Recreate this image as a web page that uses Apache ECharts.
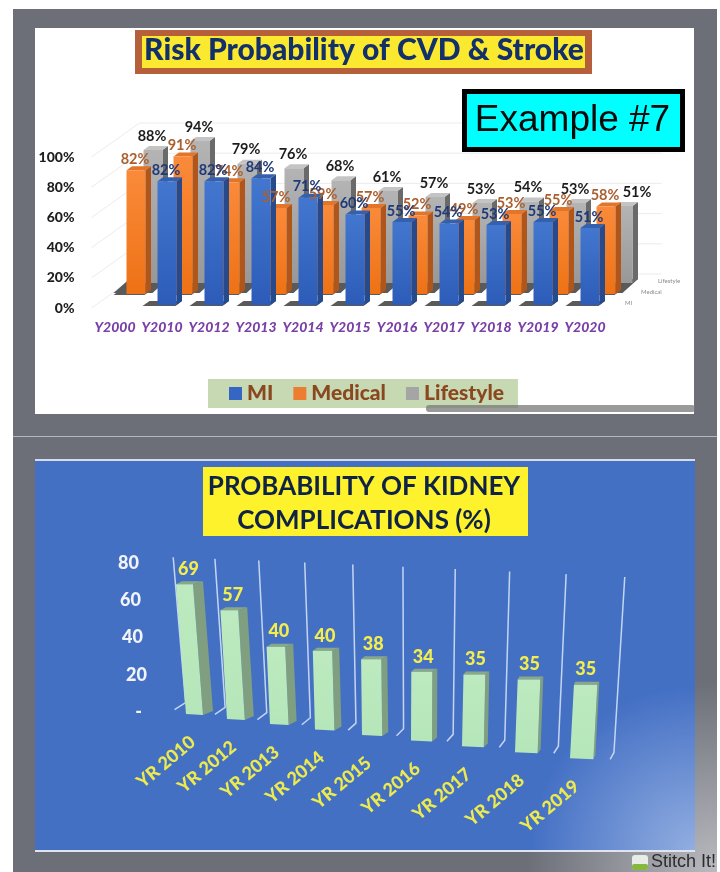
<!DOCTYPE html>
<html>
<head>
<meta charset="utf-8">
<style>html,body{margin:0;padding:0;background:#fff}#chart{width:720px;height:872px}</style>
<script src="https://cdn.jsdelivr.net/npm/echarts@6/dist/echarts.min.js"></script>
</head>
<body>
<div id="chart"></div>
<script>
// Risk chart: percentages per year for three factors
const riskYears = ['Y2000','Y2010','Y2012','Y2013','Y2014','Y2015','Y2016','Y2017','Y2018','Y2019','Y2020'];
const miValues = [null,82,82,84,71,60,55,54,53,55,51];
const medicalValues = [82,91,74,57,59,57,52,49,53,55,58];
const lifestyleValues = [88,94,79,76,68,61,57,53,54,53,51];
const riskTicks = [0,20,40,60,80,100];

// Kidney chart: probability per year
const kidneyYears = ['YR 2010','YR 2012','YR 2013','YR 2014','YR 2015','YR 2016','YR 2017','YR 2018','YR 2019'];
const kidneyValues = [69,57,40,40,38,34,35,35,35];

const SANS = 'Lato, "Open Sans", sans-serif';
const G = echarts.graphic;
const vgrad = (a, b) => new G.LinearGradient(0, 0, 0, 1, [{offset: 0, color: a}, {offset: 1, color: b}]);

// Extruded column for one depth row of the risk chart, with its floor shadow
function riskColumn(row) {
  const W = 19, SIDE = 5.5, CAP = 4;
  return function (params, api) {
    const i = api.value(0), v = api.value(1);
    if (isNaN(v)) return null;
    const base = api.coord([i, 0]), top = api.coord([i, v]);
    const cx = base[0] + row.dx, by = base[1] + row.dy, ty = top[1] + row.dy;
    const x0 = cx - W / 2, x1 = cx + W / 2;
    const poly = (points, fill, z2) => ({type: 'polygon', z2: z2 || 0, shape: {points}, style: {fill}});
    const isLast = i === riskYears.length - 1;
    const sb = by + row.shadowDrop;
    return {type: 'group', children: [
      poly([[x0 - row.shadow, sb], [x1 - row.shadowDrop, sb], [x1 + SIDE, by - CAP], [x0 - row.shadow + row.shadowDrop + 6, by - CAP]], '#5a5a5a'),
      poly([[x1, ty], [x1 + SIDE, ty - CAP], [x1 + SIDE, by - CAP], [x1, by]], row.side),
      poly([[x0, ty], [x1, ty], [x1 + SIDE, ty - CAP], [x0 + SIDE, ty - CAP]], row.cap),
      poly([[x0, ty], [x1, ty], [x1, by], [x0, by]], vgrad(row.front[0], row.front[1])),
      {type: 'text', z2: 100, style: {
        text: v + '%', x: cx - 1 + (row.name === 'Lifestyle' && isLast ? 15 : 0), y: ty - row.labelGap,
        align: 'center', verticalAlign: 'middle', font: 'bold 14.5px ' + SANS, fill: row.text
      }}
    ]};
  };
}

const rows = [
  {name: 'Lifestyle', dx: 38, dy: -25, side: '#6a6a6a', cap: '#c4c4c4', front: ['#b4b4b4', '#989898'], text: '#1c1c1c', shadow: 30, shadowDrop: 10, labelGap: 14},
  {name: 'Medical', dx: 21, dy: -14, side: '#b0561a', cap: '#e2752a', front: ['#fa8a3a', '#ee7215'], text: '#a9602f', shadow: 13, shadowDrop: 1, labelGap: 11},
  {name: 'MI', dx: 5, dy: -3, side: '#274a8c', cap: '#3560ad', front: ['#4377cf', '#2c5cb8'], text: '#1f3a78', shadow: 15, shadowDrop: 1, labelGap: 11}
];
const riskSeriesValues = {Lifestyle: lifestyleValues, Medical: medicalValues, MI: miValues};
const legendColor = {Lifestyle: '#a5a5a5', Medical: '#ed7d31', MI: '#3566c4'};

// Wall and side lines of the risk chart, one per value tick
function riskWall(params, api) {
  const v = api.value(0), cs = params.coordSys;
  const y = api.coord([0, v])[1];
  return {type: 'polyline', shape: {points: [[cs.x, y], [cs.x + 48, y - 34], [cs.x + 570, y - 34]]},
    style: {stroke: '#ececec', lineWidth: 1, fill: 'none'}};
}

// Kidney chart stage: spreads the evenly spaced categories along a receding floor
const stage = {
  spread: i => 12 - 8 * i + i * i,
  floorY: i => 2 + 4.9 * i + 0.08 * i * i,
  rise: i => 1.01 + 0.015 * i,
  frameRise: k => 0.975 + 0.0225 * (k + 0.5),
  lean: i => -0.077 + 0.0163 * i,
  width: i => 17 + 0.8 * i,
  depth: i => Math.max(2, 10 - i)
};

function kidneyColumn(params, api) {
  const i = api.value(0), v = api.value(1);
  const cs = params.coordSys;
  const band = cs.width / kidneyYears.length;
  const base = api.coord([i, 0]), top = api.coord([i, v]);
  const xAt = k => cs.x + band * (k + 0.5) + stage.spread(k);
  const yAt = k => base[1] + stage.floorY(k);
  const w = stage.width(i), d = stage.depth(i);
  const bl = xAt(i), by = yAt(i);
  const h = (base[1] - top[1]) * stage.rise(i);
  const shift = h * stage.lean(i);
  const tl = bl + shift, ty = by - h;
  const poly = (points, fill) => ({type: 'polygon', shape: {points}, style: {fill}});
  const frameLine = k => {
    const fx = xAt(k) + stage.width(k) / 2, fy = yAt(k) - 2;
    const bx = fx + 11 - 0.8 * (k + 0.5), byy = fy - 7;
    const hh = (base[1] - api.coord([0, 80])[1]) * stage.frameRise(k);
    return {type: 'polyline', shape: {points: [[fx, fy], [bx, byy], [bx + hh * stage.lean(k), byy - hh]]},
      style: {stroke: '#c4d5f2', lineWidth: 1.5, fill: 'none'}};
  };
  const kids = [frameLine(i - 0.5)];
  if (i === kidneyYears.length - 1) kids.push(frameLine(i + 0.5));
  kids.push(
    poly([[bl + w, by + 1], [tl + w, ty], [tl + w + d, ty - 3], [bl + w + d, by - 3]], '#7f9f80'),
    poly([[tl, ty], [tl + w, ty], [tl + w + d, ty - 3], [tl + d * 0.6, ty - 3]], '#8aa886'),
    poly([[tl, ty], [tl + w, ty], [bl + w, by + 1], [bl, by]], vgrad('#bdeabf', '#b5e6ba')),
    {type: 'text', z2: 50, style: {text: String(v), x: tl + w / 2 + d / 2 - 1, y: ty - 15, align: 'center', verticalAlign: 'middle',
      font: '900 18px ' + SANS, fill: '#f4ee4c'}},
    {type: 'text', z2: 50, x: bl - 20, y: by + 48, rotation: 40 * Math.PI / 180, style: {
      text: kidneyYears[i], align: 'center', verticalAlign: 'middle', font: '900 18px ' + SANS, fill: '#ecea4e'}}
  );
  return {type: 'group', children: kids};
}

const rect = (x, y, width, height, fill, z, extra) =>
  Object.assign({type: 'rect', shape: {x, y, width, height}, style: {fill}, z, silent: true}, extra || {});
const label = (text, x, y, font, fill, z, extra) =>
  ({type: 'text', x, y, z, silent: true, style: Object.assign({text, font, fill}, extra || {})});

const backdrop = [
  rect(13, 9, 704, 863, '#6c6f78', -10),
  rect(13, 9, 704, 863, {type: 'radial', x: 1, y: 1, r: 0.27, colorStops: [
    {offset: 0, color: 'rgba(190,190,196,0.95)'}, {offset: 1, color: 'rgba(190,190,196,0)'}]}, -9),
  rect(35, 28, 659, 386, '#ffffff', -8),
  rect(13, 436, 704, 1, '#b6b6bd', -8),
  rect(35, 460, 660, 391, '#4470c4', -8),
  rect(35, 460, 660, 391, {type: 'radial', x: 1, y: 1, r: 0.42, colorStops: [
    {offset: 0, color: 'rgba(160,185,230,0.85)'}, {offset: 1, color: 'rgba(160,185,230,0)'}]}, -7),
  rect(35, 459, 660, 2, '#d5dcee', -6),
  rect(35, 850, 660, 2, '#dfe4f0', -6),
  // title plates
  rect(135, 30, 457, 44, '#b5603a', 1),
  rect(142, 36, 443, 32, '#fbe92f', 2),
  rect(203, 467, 325, 69, '#fdf22b', 2),
  // example tag
  rect(462, 89, 223, 63, '#000000', 20),
  rect(467, 94, 213, 53, '#00ffff', 21),
  label('Example #7', 572.5, 121, '37px "Liberation Sans", Arial, sans-serif', '#0a0a0a', 22, {align: 'center', verticalAlign: 'middle'}),
  // depth axis names
  label('Lifestyle', 658, 281, '6px ' + SANS, '#8a8a8a', 5, {verticalAlign: 'middle'}),
  label('Medical', 641, 292, '6px ' + SANS, '#8a8a8a', 5, {verticalAlign: 'middle'}),
  label('MI', 625, 303, '6px ' + SANS, '#8a8a8a', 5, {verticalAlign: 'middle'}),
  // scrollbar strip along the panel edge
  rect(426, 405, 269, 7, 'rgba(120,120,120,0.75)', 30, {shape: {x: 426, y: 405, width: 269, height: 7, r: 3}}),
  // app badge
  rect(632, 855, 16, 15, '#e8ece6', 30, {shape: {x: 632, y: 855, width: 16, height: 15, r: 3}}),
  rect(632, 864, 16, 6, '#86b840', 31, {shape: {x: 632, y: 864, width: 16, height: 6, r: 2}}),
  label('Stitch It!', 651, 862, '18px "Liberation Sans", Arial, sans-serif', '#2c2c2c', 31, {verticalAlign: 'middle'})
];

const chart = echarts.init(document.getElementById('chart'));
chart.setOption({
  animation: false,
  title: [
    {text: 'Risk Probability of CVD & Stroke', left: 364, top: 35, textAlign: 'center', padding: 0,
      textStyle: {fontFamily: SANS, fontWeight: 900, fontSize: 30, color: '#14306a'}},
    {text: 'PROBABILITY OF KIDNEY\nCOMPLICATIONS (%)', left: 364, top: 470, textAlign: 'center', padding: 0,
      textStyle: {fontFamily: SANS, fontWeight: 'bold', fontSize: 26, lineHeight: 34, color: '#0f2347'}}
  ],
  legend: {
    data: ['MI', 'Medical', 'Lifestyle'], left: 208, top: 379, icon: 'rect', itemWidth: 13, itemHeight: 13, itemGap: 20,
    padding: [4, 14, 4, 21], backgroundColor: '#c6d9b2', selectedMode: false,
    textStyle: {fontFamily: SANS, fontWeight: 900, fontSize: 21, color: '#8a4820', padding: [0, 0, 0, 0]}
  },
  grid: [
    {left: 91.5, top: 157, width: 517, height: 151},
    {left: 150, top: 563, width: 432, height: 149}
  ],
  xAxis: [
    {type: 'category', gridIndex: 0, data: riskYears, axisLine: {show: false}, axisTick: {show: false},
      axisLabel: {margin: 12, interval: 0, color: '#7a3fa6', fontFamily: SANS, fontWeight: 900, fontStyle: 'italic', fontSize: 14}},
    {type: 'category', gridIndex: 1, data: kidneyYears, show: false}
  ],
  yAxis: [
    {type: 'value', gridIndex: 0, min: 0, max: 100, interval: 20, splitLine: {show: false}, axisLine: {show: false}, axisTick: {show: false},
      axisLabel: {margin: 17, color: '#1e1e1e', fontFamily: SANS, fontWeight: 900, fontSize: 14, formatter: '{value}%'}},
    {type: 'value', gridIndex: 1, min: 0, max: 80, interval: 20, splitLine: {show: false}, axisLine: {show: false}, axisTick: {show: false},
      axisLabel: {
        margin: 3, color: '#f2f4fa',
        formatter: v => `{t${v}|${v === 0 ? '-' : v}}`,
        rich: {
          t0: {padding: [0, 5, 0, 0], fontFamily: SANS, fontWeight: 900, fontSize: 18, color: '#f2f4fa'},
          t20: {padding: [0, 0, 0, 0], fontFamily: SANS, fontWeight: 900, fontSize: 18, color: '#f2f4fa'},
          t40: {padding: [0, 4, 0, 0], fontFamily: SANS, fontWeight: 900, fontSize: 18, color: '#f2f4fa'},
          t60: {padding: [0, 6, 0, 0], fontFamily: SANS, fontWeight: 900, fontSize: 18, color: '#f2f4fa'},
          t80: {padding: [0, 8, 0, 0], fontFamily: SANS, fontWeight: 900, fontSize: 18, color: '#f2f4fa'}
        }
      }}
  ],
  graphic: {elements: backdrop},
  series: [
    {type: 'custom', name: 'wall', xAxisIndex: 0, yAxisIndex: 0, silent: true, z: 1,
      data: riskTicks.map(v => [v]), encode: {y: 0}, renderItem: riskWall},
    ...rows.map(row => ({
      type: 'custom', name: row.name, xAxisIndex: 0, yAxisIndex: 0, silent: true, z: 2,
      itemStyle: {color: legendColor[row.name]},
      data: riskSeriesValues[row.name].map((v, i) => [i, v]),
      encode: {x: 0, y: 1}, renderItem: riskColumn(row)
    })),
    {type: 'custom', name: 'Kidney complications', xAxisIndex: 1, yAxisIndex: 1, silent: true, z: 2,
      data: kidneyValues.map((v, i) => [i, v]), encode: {x: 0, y: 1}, renderItem: kidneyColumn}
  ]
});
</script>
</body>
</html>
